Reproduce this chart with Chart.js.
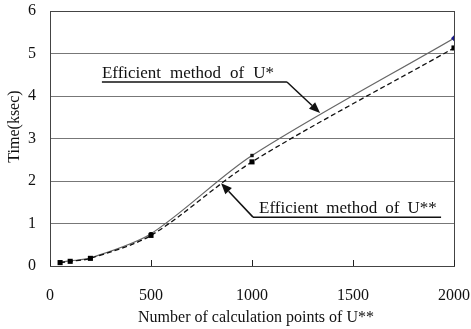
<!DOCTYPE html>
<html><head><meta charset="utf-8">
<script src="https://cdn.jsdelivr.net/npm/chart.js@4.4.1/dist/chart.umd.min.js"></script>
<style>html,body{margin:0;padding:0;background:#fff}#wrap{width:471px;height:329px}</style>
</head><body><div id="wrap"><canvas id="c" width="471" height="329"></canvas></div>
<script>
const points = [50, 100, 200, 500, 1000, 2000];
const timeUStar = [0.09, 0.12, 0.19, 0.76, 2.60, 5.36];
const timeUStarStar = [0.08, 0.11, 0.18, 0.72, 2.45, 5.13];
const xTicks = [0, 500, 1000, 1500, 2000];
const yTicks = [0, 1, 2, 3, 4, 5, 6];
const xTitle = 'Number of calculation points of U**';
const yTitle = 'Time(ksec)';
const labelUStar = 'Efficient method of U*';
const labelUStarStar = 'Efficient method of U**';

const serif = "'Liberation Serif', 'Times New Roman', serif";

function drawSpaced(ctx, text, x, y, gap) {
  const words = text.split(' ');
  let cx = x;
  words.forEach((w, i) => {
    ctx.fillText(w, cx, y);
    cx += ctx.measureText(w).width + gap;
  });
  return cx - gap;
}
function arrow(ctx, x1, y1, x2, y2) {
  ctx.beginPath(); ctx.moveTo(x1, y1);
  const a = Math.atan2(y2 - y1, x2 - x1);
  const L = 11, W = 4.5;
  const bx = x2 - L * Math.cos(a), by = y2 - L * Math.sin(a);
  ctx.lineTo(bx, by); ctx.stroke();
  ctx.beginPath();
  ctx.moveTo(x2, y2);
  ctx.lineTo(bx + W * Math.sin(a), by - W * Math.cos(a));
  ctx.lineTo(bx - W * Math.sin(a), by + W * Math.cos(a));
  ctx.closePath(); ctx.fill();
}

const deco = {
  id: 'deco',
  afterDraw(chart) {
    const ctx = chart.ctx, a = chart.chartArea;
    const xs = chart.scales.x, ys = chart.scales.y;
    ctx.save();
    ctx.strokeStyle = '#444'; ctx.lineWidth = 1;
    ctx.strokeRect(Math.round(a.left) + 0.5, Math.round(a.top) + 0.5, Math.round(a.right - a.left), Math.round(a.bottom - a.top));
    ctx.strokeStyle = '#222';
    xTicks.forEach(v => {
      const px = Math.round(xs.getPixelForValue(v)) + 0.5;
      ctx.beginPath(); ctx.moveTo(px, a.bottom); ctx.lineTo(px, a.bottom - 6); ctx.stroke();
    });
    ctx.fillStyle = '#111';
    ctx.font = '16px ' + serif;
    ctx.textAlign = 'center'; ctx.textBaseline = 'middle';
    ctx.fillText(xTitle, (a.left + a.right) / 2 + 4, 318);
    ctx.save();
    ctx.translate(15, (a.top + a.bottom) / 2 - 12);
    ctx.rotate(-Math.PI / 2);
    ctx.fillText(yTitle, 0, 0);
    ctx.restore();
    ctx.font = '17px ' + serif;
    ctx.textAlign = 'left'; ctx.textBaseline = 'alphabetic';
    ctx.fillStyle = '#111'; ctx.strokeStyle = '#111'; ctx.lineWidth = 1.5;
    let tx = xs.getPixelForValue(257), ty = ys.getPixelForValue(4.42);
    drawSpaced(ctx, labelUStar, tx, ty, 9);
    let uy = ys.getPixelForValue(4.33);
    let ux2 = xs.getPixelForValue(1173);
    ctx.beginPath(); ctx.moveTo(tx, uy); ctx.lineTo(ux2, uy); ctx.stroke();
    arrow(ctx, ux2, uy, xs.getPixelForValue(1337), ys.getPixelForValue(3.6));
    tx = xs.getPixelForValue(1035); ty = ys.getPixelForValue(1.25);
    drawSpaced(ctx, labelUStarStar, tx, ty, 8);
    uy = ys.getPixelForValue(1.15);
    const ux1 = xs.getPixelForValue(1005);
    ux2 = xs.getPixelForValue(1936);
    ctx.beginPath(); ctx.moveTo(ux1, uy); ctx.lineTo(ux2, uy); ctx.stroke();
    arrow(ctx, ux1, uy, xs.getPixelForValue(847), ys.getPixelForValue(1.95));
    ctx.restore();
  }
};

new Chart(document.getElementById('c'), {
  type: 'line',
  data: {
    datasets: [
      {
        label: labelUStarStar,
        data: points.map((x, i) => ({x, y: timeUStarStar[i]})),
        borderColor: '#111', borderWidth: 1.3, borderDash: [5, 3],
        pointStyle: 'rect', pointRadius: 3.6, pointBackgroundColor: '#000', pointBorderColor: '#000', pointBorderWidth: 0,
        tension: 0.3, fill: false
      },
      {
        label: labelUStar,
        data: points.map((x, i) => ({x, y: timeUStar[i]})),
        borderColor: '#666', borderWidth: 1.2,
        pointStyle: points.map((x, i) => i === points.length - 1 ? 'rectRot' : 'rect'),
        pointRadius: points.map((x, i) => i === points.length - 1 ? 3 : 2.4),
        pointBackgroundColor: points.map((x, i) => i === points.length - 1 ? '#1a1a8a' : '#111'),
        pointBorderWidth: 0,
        tension: 0.3, fill: false
      }
    ]
  },
  plugins: [deco],
  options: {
    responsive: false, animation: false,
    layout: {padding: {top: 11, right: 17, left: 0, bottom: 0}},
    plugins: {legend: {display: false}, tooltip: {enabled: false}},
    scales: {
      x: {
        type: 'linear', min: 0, max: 2000,
        afterBuildTicks(s) { s.ticks = xTicks.map(v => ({value: v})); },
        afterFit(s) { s.height = 63; s.paddingLeft = 0; s.paddingRight = 0; },
        grid: {display: false, drawTicks: false},
        border: {display: true, color: '#222'},
        ticks: {padding: 20, color: '#111', font: {family: serif, size: 16}, maxRotation: 0, callback: v => String(v)}
      },
      y: {
        min: 0, max: 6,
        afterBuildTicks(s) { s.ticks = yTicks.map(v => ({value: v})); },
        afterFit(s) { s.width = 50; s.paddingTop = 0; s.paddingBottom = 0; },
        grid: {color: '#777', lineWidth: 1, drawTicks: false},
        border: {display: true, color: '#222'},
        ticks: {padding: 14, color: '#111', font: {family: serif, size: 16}, callback: v => String(v)}
      }
    }
  }
});
</script></body></html>
